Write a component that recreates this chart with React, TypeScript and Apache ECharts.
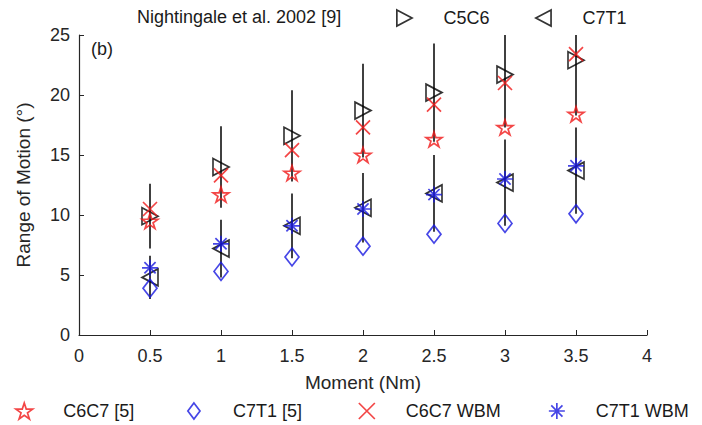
import React, { useEffect, useRef } from "react";
import * as echarts from "echarts";

const moments = [0.5, 1, 1.5, 2, 2.5, 3, 3.5];
const xTicks = [0, 0.5, 1, 1.5, 2, 2.5, 3, 3.5, 4];
const yTicks = [0, 5, 10, 15, 20, 25];
// Nightingale et al. 2002 [9]
const nightC5C6 = [9.9, 14.0, 16.6, 18.7, 20.2, 21.7, 22.9];
const nightC5C6Err = [2.7, 3.4, 3.8, 3.9, 4.1, 4.4, 4.6];
const nightC7T1 = [4.8, 7.2, 9.1, 10.6, 11.8, 12.7, 13.7];
const nightC7T1Err = [1.8, 2.4, 2.7, 2.9, 3.2, 3.6, 3.6];
// Reference [5]
const refC6C7 = [9.5, 11.7, 13.5, 15.0, 16.3, 17.3, 18.4];
const refC7T1 = [3.9, 5.3, 6.5, 7.4, 8.4, 9.3, 10.1];
// WBM
const wbmC6C7 = [10.5, 13.3, 15.4, 17.3, 19.2, 21.0, 23.4];
const wbmC7T1 = [5.6, 7.6, 9.1, 10.5, 11.7, 13.0, 14.1];

const FONT = "Liberation Sans, Arial, Helvetica, sans-serif";
const RED = "#f01818";
const BLUE = "#1818e0";
const BLACK = "#000000";
const AXIS = "#262626";
const TEXT = "#1a1a1a";

const STAR =
  "path://M50 0 L61.23 34.55 L97.55 34.55 L68.17 55.9 L79.39 90.45 L50 69.1 L20.61 90.45 L31.83 55.9 L2.45 34.55 L38.77 34.55 Z";
const DIAMOND = "path://M38 0 L76 50 L38 100 L0 50 Z";
const TRI_RIGHT = "path://M0 0 L95 50 L0 100 Z";
const TRI_LEFT = "path://M95 0 L0 50 L95 100 Z";
const CROSS = "path://M0 0 L100 100 M100 0 L0 100";
const ASTER =
  "path://M50 0 L50 100 M0 50 L100 50 M15 15 L85 85 M85 15 L15 85";

const pairs = (ys: number[]) => moments.map((x, i) => [x, ys[i]]);
const errTriples = (ys: number[], es: number[]) =>
  moments.map((x, i) => [x, ys[i], es[i]]);

const errorRender = (params: any, api: any) => {
  const x = api.value(0);
  const y = api.value(1);
  const e = api.value(2);
  const p1 = api.coord([x, y - e]);
  const p2 = api.coord([x, y + e]);
  return {
    type: "line",
    shape: { x1: p1[0], y1: p1[1], x2: p2[0], y2: p2[1] },
    style: { stroke: BLACK, lineWidth: 1.5 },
  };
};

const markerSeries = (
  name: string,
  data: number[][],
  symbol: string,
  size: number[],
  color: string
) => ({
  name,
  type: "scatter",
  data,
  symbol,
  symbolSize: size,
  itemStyle: { color: "transparent", borderColor: color, borderWidth: 1.7 },
  emphasis: { disabled: true },
  z: 3,
});

const legendItem = (name: string, left: number, top: number) => ({
  data: [name],
  left,
  top,
  padding: 0,
  itemWidth: 20,
  itemHeight: 16,
  selectedMode: false,
  itemStyle: { borderWidth: 1.7 },
  textStyle: {
    fontFamily: FONT,
    fontSize: 18,
    color: TEXT,
    padding: [0, 0, 0, 24],
  },
});

export default function App() {
  const ref = useRef<HTMLDivElement>(null);
  useEffect(() => {
    if (!ref.current) return;
    const chart = echarts.init(ref.current, null, { renderer: "svg" });
    chart.setOption({
      animation: false,
      backgroundColor: "#ffffff",
      grid: { left: 79, top: 35, right: 55, bottom: 90 },
      xAxis: {
        type: "value",
        min: xTicks[0],
        max: xTicks[xTicks.length - 1],
        interval: 0.5,
        name: "Moment (Nm)",
        nameLocation: "middle",
        nameGap: 38,
        nameTextStyle: { fontFamily: FONT, fontSize: 19, color: AXIS },
        axisLine: { show: true, lineStyle: { color: AXIS, width: 1.2 } },
        axisTick: { show: true, inside: true, length: 5, lineStyle: { color: AXIS } },
        axisLabel: { fontFamily: FONT, fontSize: 18, color: AXIS, margin: 12 },
        splitLine: { show: false },
      },
      yAxis: {
        type: "value",
        min: yTicks[0],
        max: yTicks[yTicks.length - 1],
        interval: 5,
        name: "Range of Motion (°)",
        nameLocation: "middle",
        nameGap: 46,
        nameTextStyle: { fontFamily: FONT, fontSize: 19, color: AXIS },
        axisLine: { show: true, lineStyle: { color: AXIS, width: 1.2 } },
        axisTick: { show: true, inside: true, length: 5, lineStyle: { color: AXIS } },
        axisLabel: { fontFamily: FONT, fontSize: 18, color: AXIS, margin: 9 },
        splitLine: { show: false },
      },
      legend: [
        legendItem("C5C6", 396, 9),
        legendItem("C7T1", 535, 9),
        legendItem("C6C7 [5]", 15, 402),
        legendItem("C7T1 [5]", 187, 402),
        legendItem("C6C7 WBM", 358, 402),
        legendItem("C7T1 WBM", 548, 402),
      ],
      graphic: [
        {
          type: "text",
          left: 137,
          top: 8,
          style: {
            text: "Nightingale et al. 2002 [9]",
            fontFamily: FONT,
            fontSize: 18,
            fill: TEXT,
          },
        },
        {
          type: "text",
          left: 91,
          top: 40,
          style: { text: "(b)", fontFamily: FONT, fontSize: 18, fill: TEXT },
        },
      ],
      series: [
        {
          name: "errC5C6",
          type: "custom",
          renderItem: errorRender,
          data: errTriples(nightC5C6, nightC5C6Err),
          encode: { x: 0, y: 1 },
          clip: true,
          z: 2,
        },
        {
          name: "errC7T1",
          type: "custom",
          renderItem: errorRender,
          data: errTriples(nightC7T1, nightC7T1Err),
          encode: { x: 0, y: 1 },
          clip: true,
          z: 2,
        },
        markerSeries("C5C6", pairs(nightC5C6), TRI_RIGHT, [16, 17], BLACK),
        markerSeries("C7T1", pairs(nightC7T1), TRI_LEFT, [16, 17], BLACK),
        markerSeries("C6C7 [5]", pairs(refC6C7), STAR, [16, 15], RED),
        markerSeries("C7T1 [5]", pairs(refC7T1), DIAMOND, [14, 18], BLUE),
        markerSeries("C6C7 WBM", pairs(wbmC6C7), CROSS, [14, 14], RED),
        markerSeries("C7T1 WBM", pairs(wbmC7T1), ASTER, [16, 16], BLUE),
      ],
    });
    return () => chart.dispose();
  }, []);
  return (
    <div
      ref={ref}
      style={{ position: "absolute", left: 0, top: 0, width: 702, height: 425 }}
    />
  );
}
